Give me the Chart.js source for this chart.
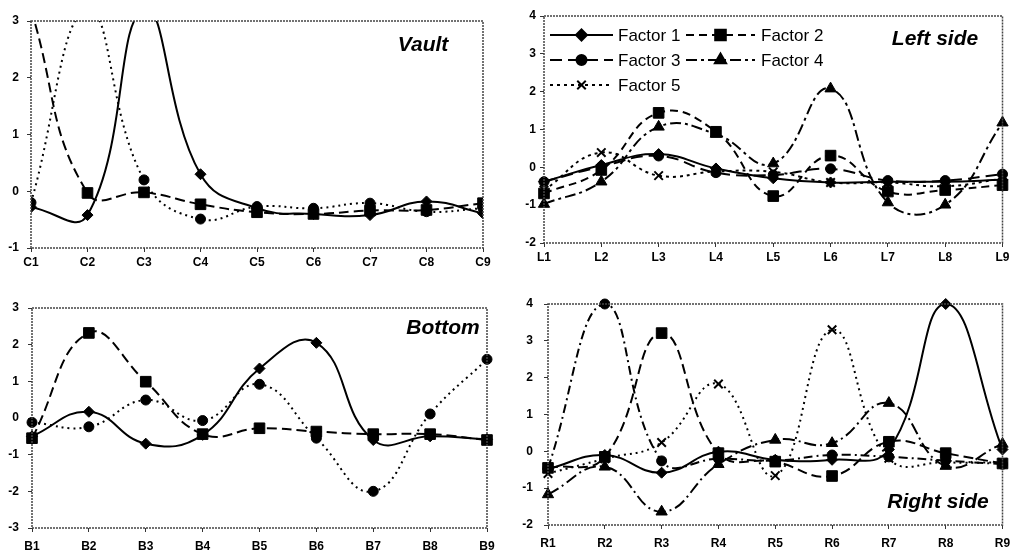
<!DOCTYPE html>
<html>
<head>
<meta charset="utf-8">
<script src="https://cdn.jsdelivr.net/npm/chart.js@4/dist/chart.umd.min.js"></script>
<style>
  body { margin: 0; background: #fff; }
  canvas { position: absolute; }
</style>
</head>
<body>
<canvas id="vault" width="500" height="270" style="left:0;top:0"></canvas>
<canvas id="left" width="506" height="270" style="left:505px;top:0"></canvas>
<canvas id="bottom" width="500" height="282" style="left:0;top:270px"></canvas>
<canvas id="right" width="506" height="282" style="left:505px;top:270px"></canvas>
<script>
// ---- data ----
const vaultLabels = ['C1', 'C2', 'C3', 'C4', 'C5', 'C6', 'C7', 'C8', 'C9'];
const vaultF1 = [-0.28, -0.42, 3.2, 0.3, -0.3, -0.4, -0.42, -0.18, -0.39];
const vaultF2 = [3.2, -0.03, -0.02, -0.23, -0.37, -0.4, -0.34, -0.33, -0.21];
const vaultF3 = [-0.2, 3.2, 0.2, -0.49, -0.27, -0.3, -0.21, -0.36, -0.3];

const leftLabels = ['L1', 'L2', 'L3', 'L4', 'L5', 'L6', 'L7', 'L8', 'L9'];
const leftF1 = [-0.38, 0.06, 0.35, -0.03, -0.29, -0.4, -0.38, -0.38, -0.33];
const leftF2 = [-0.69, -0.07, 1.44, 0.94, -0.76, 0.31, -0.64, -0.6, -0.47];
const leftF3 = [-0.38, 0.02, 0.3, -0.14, -0.2, -0.04, -0.35, -0.35, -0.18];
const leftF4 = [-0.97, -0.38, 1.07, 0.88, 0.1, 2.08, -0.93, -0.99, 1.18];
const leftF5 = [-0.6, 0.39, -0.22, -0.11, -0.12, -0.4, -0.4, -0.5, -0.3];

const bottomLabels = ['B1', 'B2', 'B3', 'B4', 'B5', 'B6', 'B7', 'B8', 'B9'];
const bottomF1 = [-0.5, 0.17, -0.7, -0.46, 1.35, 2.05, -0.6, -0.5, -0.58];
const bottomF2 = [-0.55, 2.32, 0.99, -0.44, -0.28, -0.37, -0.44, -0.44, -0.6];
const bottomF3 = [-0.12, -0.24, 0.49, -0.07, 0.92, -0.55, -2.0, 0.11, 1.6];

const rightLabels = ['R1', 'R2', 'R3', 'R4', 'R5', 'R6', 'R7', 'R8', 'R9'];
const rightF1 = [-0.48, -0.1, -0.58, -0.01, -0.23, -0.23, 0.05, 4.0, 0.05];
const rightF2 = [-0.45, -0.15, 3.21, -0.05, -0.28, -0.67, 0.26, -0.05, -0.33];
const rightF3 = [-0.45, 4.0, -0.26, -0.2, -0.25, -0.1, -0.15, -0.25, -0.35];
const rightF4 = [-1.17, -0.42, -1.64, -0.35, 0.31, 0.22, 1.31, -0.4, 0.2];
const rightF5 = [-0.6, -0.2, 0.24, 1.83, -0.66, 3.3, -0.19, -0.3, -0.3];

const factorNames = ['Factor 1', 'Factor 2', 'Factor 3', 'Factor 4', 'Factor 5'];

const FONT = "'Liberation Sans', Arial, sans-serif";

// marker look for each factor
const markers = [
  { pointStyle: 'rectRot', pointRadius: 5.5 },
  { pointStyle: 'rect', pointRadius: 7.5 },
  { pointStyle: 'circle', pointRadius: 5 },
  { pointStyle: 'triangle', pointRadius: 6.5 },
  { pointStyle: 'crossRot', pointRadius: 6, pointBorderWidth: 2 }
];

function ds(i, data, dash, clip) {
  return Object.assign({
    label: factorNames[i],
    data: data,
    borderColor: '#000',
    backgroundColor: '#000',
    borderWidth: 2,
    borderDash: dash,
    tension: 0.45,
    pointBorderWidth: 1,
    pointBorderColor: '#000',
    pointBackgroundColor: '#000',
    clip: clip
  }, markers[i]);
}

// frame, title and legend drawn on top of the chart
const panelDecor = {
  id: 'panelDecor',
  afterDraw(chart, args, opts) {
    const ctx = chart.ctx;
    const a = chart.chartArea;
    ctx.save();
    ctx.strokeStyle = '#444';
    ctx.lineWidth = 1.5;
    ctx.setLineDash([2, 1]);
    ctx.strokeRect(a.left, a.top, a.right - a.left, a.bottom - a.top);
    ctx.setLineDash([]);

    if (opts.title) {
      ctx.fillStyle = '#000';
      ctx.font = 'italic bold 21px ' + FONT;
      ctx.textAlign = 'center';
      ctx.textBaseline = 'middle';
      ctx.fillText(opts.title, opts.titleX, opts.titleY);
    }

    if (opts.legend) {
      const cols = [[45, 108, 113], [181, 250, 256]];
      const rows = [35, 60, 85];
      chart.data.datasets.forEach((d, i) => {
        const c = cols[i % 2];
        const y = rows[Math.floor(i / 2)];
        ctx.strokeStyle = '#000';
        ctx.lineWidth = 2;
        ctx.setLineDash(d.borderDash || []);
        ctx.beginPath();
        ctx.moveTo(c[0], y);
        ctx.lineTo(c[1], y);
        ctx.stroke();
        ctx.setLineDash([]);
        Chart.helpers.drawPoint(ctx, {
          pointStyle: d.pointStyle,
          radius: d.pointRadius,
          borderWidth: d.pointBorderWidth || 1,
          rotation: 0
        }, (c[0] + c[1]) / 2, y);
        ctx.fillStyle = '#000';
        ctx.font = '17px ' + FONT;
        ctx.textAlign = 'left';
        ctx.textBaseline = 'middle';
        ctx.fillText(d.label, c[2], y + 1);
      });
    }
    ctx.restore();
  }
};

function makeChart(id, labels, datasets, cfg) {
  const tickColor = '#333';
  return new Chart(document.getElementById(id), {
    type: 'line',
    data: { labels: labels, datasets: datasets },
    plugins: [panelDecor],
    options: {
      responsive: false,
      animation: false,
      layout: { padding: cfg.padding },
      plugins: {
        legend: { display: false },
        tooltip: { enabled: false },
        panelDecor: cfg.decor
      },
      scales: {
        x: {
          offset: false,
          grid: { drawOnChartArea: false, tickLength: 4, color: tickColor },
          border: { display: false },
          ticks: {
            color: '#000', padding: cfg.xPad, maxRotation: 0, autoSkip: false,
            font: { family: FONT, size: 12, weight: 'bold' }
          },
          afterFit(s) { s.height = cfg.xH; s.paddingLeft = 0; s.paddingRight = 0; }
        },
        y: {
          min: cfg.min, max: cfg.max,
          grid: { drawOnChartArea: false, tickLength: 4, color: tickColor },
          border: { display: false },
          ticks: {
            stepSize: 1, color: '#000', padding: cfg.yPad,
            font: { family: FONT, size: 12, weight: 'bold' }
          },
          afterFit(s) { s.width = cfg.yW; s.paddingTop = 0; s.paddingBottom = 0; }
        }
      }
    }
  });
}

makeChart('vault', vaultLabels, [
  ds(0, vaultF1, [], 0),
  ds(1, vaultF2, [10, 5], 0),
  ds(2, vaultF3, [2, 4], 0)
], {
  min: -1, max: 3, padding: { left: 1, right: 17, top: 21, bottom: 0 },
  yW: 30, xH: 22, xPad: 3, yPad: 8,
  decor: { title: 'Vault', titleX: 423, titleY: 45 }
});

makeChart('left', leftLabels, [
  ds(0, leftF1, [], 8),
  ds(1, leftF2, [8, 5], 8),
  ds(2, leftF3, [12, 6], 8),
  ds(3, leftF4, [11, 4, 3, 4], 8),
  ds(4, leftF5, [3, 4], 8)
], {
  min: -2, max: 4, padding: { left: 0, right: 7, top: 16, bottom: 0 },
  yW: 39, xH: 27, xPad: 3, yPad: 4,
  decor: { title: 'Left side', titleX: 430, titleY: 39, legend: true }
});

makeChart('bottom', bottomLabels, [
  ds(0, bottomF1, [], 8),
  ds(1, bottomF2, [10, 5], 8),
  ds(2, bottomF3, [2, 4], 8)
], {
  min: -3, max: 3, padding: { left: 1, right: 13, top: 38, bottom: 0 },
  yW: 31, xH: 24, xPad: 7, yPad: 9,
  decor: { title: 'Bottom', titleX: 443, titleY: 58 }
});

makeChart('right', rightLabels, [
  ds(0, rightF1, [], 8),
  ds(1, rightF2, [10, 5], 8),
  ds(2, rightF3, [9, 4, 2, 4], 8),
  ds(3, rightF4, [12, 4, 2, 4], 8),
  ds(4, rightF5, [2, 4], 8)
], {
  min: -2, max: 4, padding: { left: 0, right: 6, top: 34, bottom: 0 },
  yW: 43, xH: 27, xPad: 7, yPad: 11,
  decor: { title: 'Right side', titleX: 433, titleY: 232 }
});
</script>
</body>
</html>
